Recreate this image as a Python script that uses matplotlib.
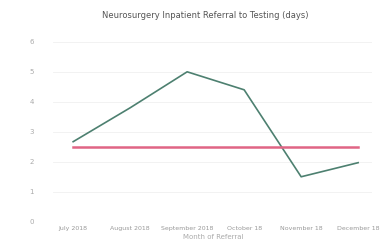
import matplotlib
matplotlib.use("Agg")
import matplotlib.pyplot as plt

categories = ["July 2018", "August 2018", "September 2018", "October 18", "November 18", "December 18"]
days = [2.67, 3.8, 5.0, 4.4, 1.5, 1.97]
target = 2.5
yticks = [0, 1, 2, 3, 4, 5, 6]

fig = plt.figure(figsize=(3.8, 2.52), dpi=100)
ax = fig.add_axes([0.14, 0.12, 0.84, 0.72])
x = list(range(len(categories)))
ax.plot(x, days, color="#4d8070", linewidth=1.2)
ax.plot(x, [target] * len(x), color="#e06585", linewidth=1.8)
ax.set_xlim(-0.35, len(categories) - 1 + 0.25)
ax.set_ylim(0, 6.05)
ax.set_yticks(yticks)
ax.set_xticks(x)
ax.set_xticklabels(categories, fontsize=4.5, color="#999999")
ax.tick_params(axis="y", labelsize=5, labelcolor="#aaaaaa", length=0, pad=14)
ax.tick_params(axis="x", length=0, pad=3)
ax.grid(axis="y", color="#f0f0f0", linewidth=0.6)
for s in ax.spines.values():
    s.set_visible(False)
ax.set_xlabel("Month of Referral", fontsize=5, color="#aaaaaa", labelpad=2)
fig.suptitle("Neurosurgery Inpatient Referral to Testing (days)", fontsize=6, color="#555555", x=0.54, y=0.955)
fig.savefig("out.png", dpi=100)
